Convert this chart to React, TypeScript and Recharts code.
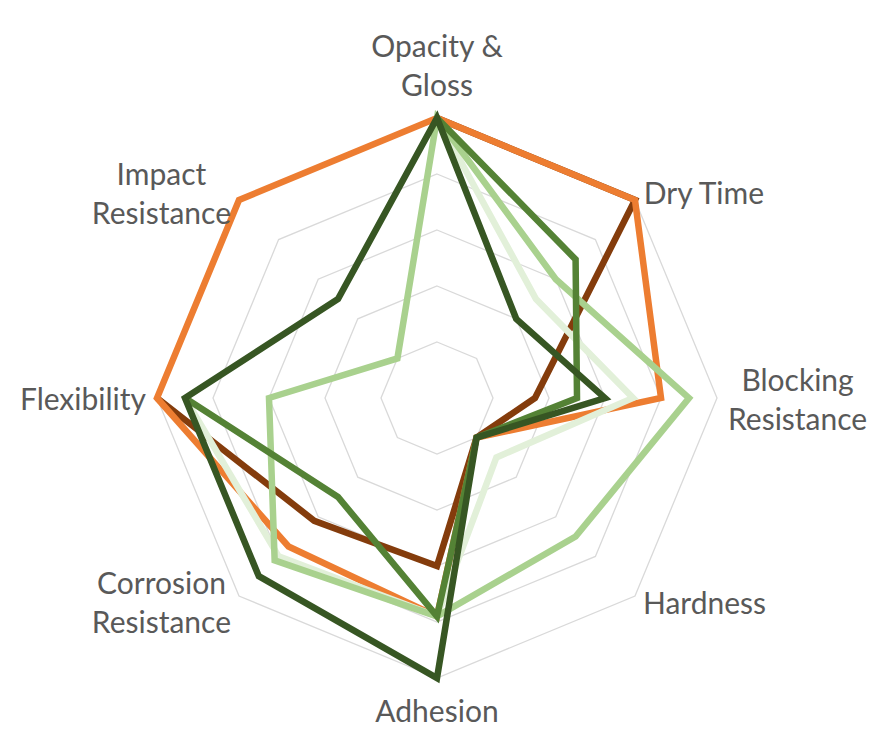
import { RadarChart, Radar, PolarGrid, PolarAngleAxis, PolarRadiusAxis } from 'recharts';

// ── Datos ─────────────────────────────────────────────────────────────────────

const categories = [
  'Opacity & Gloss',
  'Dry Time',
  'Blocking Resistance',
  'Hardness',
  'Adhesion',
  'Corrosion Resistance',
  'Flexibility',
  'Impact Resistance',
];

// etiquetas partidas en líneas, como en el original
const tickLines = [
  ['Opacity &', 'Gloss'],
  ['Dry Time'],
  ['Blocking', 'Resistance'],
  ['Hardness'],
  ['Adhesion'],
  ['Corrosion', 'Resistance'],
  ['Flexibility'],
  ['Impact', 'Resistance'],
];

// escala 0–5; null = sin dato (la línea queda abierta)
const seriesA = [5, 5, 1.75, 1, 3, 3.1, 5, null]; // marrón
const seriesB = [5, 5, 4, 1, 3.9, 3.75, 5, 5]; // naranja
const seriesC = [5, 2.5, 3.5, 1.5, 3.9, 4, 4.5, null]; // verde muy claro
const seriesD = [5, 3, 4.5, 3.5, 3.9, 4.1, 3, 1]; // verde claro
const seriesE = [5, 3.5, 2.5, 1, 3.9, 2.5, 4.5, null]; // verde medio
const seriesF = [5, 2, 3, 1, 5, 4.5, 4.5, 2.5]; // verde oscuro

const data = categories.map((name, i) => ({
  name,
  a: seriesA[i],
  b: seriesB[i],
  c: seriesC[i],
  d: seriesD[i],
  e: seriesE[i],
  f: seriesF[i],
}));

const series = [
  { key: 'a', color: '#843C0C' },
  { key: 'b', color: '#ED7D31' },
  { key: 'c', color: '#E2F0D9' },
  { key: 'd', color: '#A9D18E' },
  { key: 'e', color: '#548235' },
  { key: 'f', color: '#375623' },
];

// ── Geometría ────────────────────────────────────────────────────────────────

const CX = 437;
const CY = 398;
const R = 280;
const FONT_SIZE = 30;
const LINE_H = 39;
const FONT = `${FONT_SIZE}px Lato`;

let ctx: CanvasRenderingContext2D | null = null;
const measure = (s: string) => {
  if (!ctx) ctx = document.createElement('canvas').getContext('2d');
  if (!ctx) return s.length * FONT_SIZE * 0.5;
  ctx.font = FONT;
  return ctx.measureText(s).width;
};

// ── Forma de la serie: abierta donde falta un valor ───────────────────────────

const isMissing = (p: any) =>
  p == null ||
  p.value == null ||
  (Array.isArray(p.value) && p.value[p.value.length - 1] == null) ||
  !Number.isFinite(p.x) ||
  !Number.isFinite(p.y);

const OpenRadarShape = ({ points, stroke, strokeWidth }: any) => {
  const pts: any[] = points ?? [];
  const n = pts.length;
  const firstGap = pts.findIndex(isMissing);
  let d = '';
  if (firstGap < 0) {
    d = pts.map((p, i) => `${i === 0 ? 'M' : 'L'}${p.x},${p.y}`).join('') + 'Z';
  } else {
    // recorrer empezando justo después del primer hueco
    let pen = false;
    for (let k = 1; k <= n; k++) {
      const p = pts[(firstGap + k) % n];
      if (isMissing(p)) {
        pen = false;
        continue;
      }
      d += `${pen ? 'L' : 'M'}${p.x},${p.y}`;
      pen = true;
    }
  }
  return <path d={d} fill="none" stroke={stroke} strokeWidth={strokeWidth} />;
};

// ── Etiqueta del eje angular ──────────────────────────────────────────────────

const AngleTick = ({ x, y, index }: any) => {
  const dx = x - CX;
  const dy = y - CY;
  const len = Math.hypot(dx, dy) || 1;
  const ux = dx / len;
  const uy = dy / len;
  const vx = CX + ux * R;
  const vy = CY + uy * R;
  const lines = tickLines[index] ?? [String(categories[index])];
  const n = lines.length;
  const w = Math.max(...lines.map(measure));

  let tx = vx;
  let centerY = vy;
  if (Math.abs(ux) < 0.1) {
    // arriba / abajo
    if (uy < 0) centerY = vy - 34 - ((n - 1) * LINE_H) / 2;
    else centerY = vy + 32 + ((n - 1) * LINE_H) / 2;
  } else {
    const gap = Math.abs(uy) < 0.1 ? 11 : 8;
    tx = ux > 0 ? vx + gap + w / 2 : vx - gap - w / 2;
    if (Math.abs(uy) < 0.1) centerY = vy;
    else centerY = uy < 0 ? vy - 8 : vy + 6;
  }

  return (
    <text
      x={tx}
      y={centerY}
      textAnchor="middle"
      fill="#595959"
      fontSize={FONT_SIZE}
      fontFamily="Lato"
    >
      {lines.map((l, i) => (
        <tspan key={i} x={tx} y={centerY + (i - (n - 1) / 2) * LINE_H} dominantBaseline="central">
          {l}
        </tspan>
      ))}
    </text>
  );
};

// ── Componente principal ──────────────────────────────────────────────────────

export default function App() {
  return (
    <div style={{ position: 'absolute', left: 0, top: 0, background: '#fff' }}>
      <RadarChart
        width={891}
        height={738}
        data={data}
        cx={CX}
        cy={CY}
        outerRadius={R}
        margin={{ top: 0, right: 0, bottom: 0, left: 0 }}
      >
        <PolarGrid gridType="polygon" radialLines={false} stroke="#D9D9D9" strokeWidth={1.3} />
        <PolarAngleAxis
          dataKey="name"
          tickLine={false}
          axisLine={false}
          tick={(props: any) => <AngleTick {...props} />}
        />
        <PolarRadiusAxis domain={[0, 5]} tickCount={6} tick={false} axisLine={false} />
        {series.map((s) => (
          <Radar
            key={s.key}
            dataKey={s.key}
            stroke={s.color}
            strokeWidth={6.5}
            fill="none"
            fillOpacity={0}
            dot={false}
            isAnimationActive={false}
            shape={(props: any) => (
              <OpenRadarShape {...props} stroke={s.color} strokeWidth={6.5} />
            )}
          />
        ))}
      </RadarChart>
    </div>
  );
}
